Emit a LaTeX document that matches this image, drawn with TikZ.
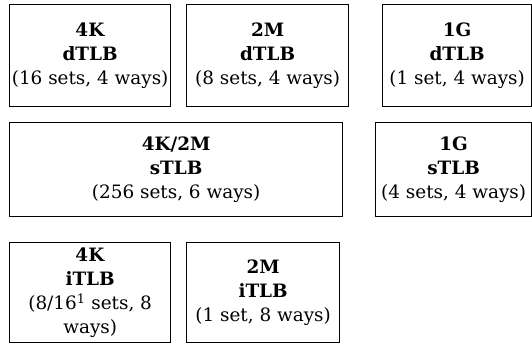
\documentclass[tikz,border=0pt]{standalone}
\usepackage{fontspec}
\setmainfont{DejaVu Serif}
\tikzset{tlb/.style={draw, line width=1.3pt,
    align=center, anchor=north west, inner sep=0pt,
    font=\fontsize{18.4}{24}\selectfont},
    }

\begin{document}
\begin{tikzpicture}[x=1pt,y=-1pt]
\useasboundingbox (0,0) rectangle (532,343);
% data TLBs
\node[tlb, minimum width=161pt, minimum height=102pt] (dtlb4k) at (9,4)
  {\textbf{4K}\\\textbf{dTLB}\\(16 sets, 4 ways)};
\node[tlb, minimum width=162pt, minimum height=102pt] (dtlb2m) at (186,4)
  {\textbf{2M}\\\textbf{dTLB}\\(8 sets, 4 ways)};
\node[tlb, minimum width=149pt, minimum height=102pt] (dtlb1g) at (382,4)
  {\textbf{1G}\\\textbf{dTLB}\\(1 set, 4 ways)};
% second level
\node[tlb, minimum width=333pt, minimum height=94pt] (stlb) at (9,122)
  {\textbf{4K/2M}\\\textbf{sTLB}\\(256 sets, 6 ways)};
\node[tlb, minimum width=156pt, minimum height=94pt] (stlb1g) at (375,122)
  {\textbf{1G}\\\textbf{sTLB}\\(4 sets, 4 ways)};
% instruction TLBs
\node[tlb, minimum width=161pt, minimum height=100pt] (itlb4k) at (9,242)
  {\textbf{4K}\\\textbf{iTLB}\\(8/16\textsuperscript{1} sets, 8\\ways)};
\node[tlb, minimum width=153pt, minimum height=100pt] (itlb2m) at (186,242)
  {\textbf{2M}\\\textbf{iTLB}\\(1 set, 8 ways)};
\end{tikzpicture}
\end{document}
